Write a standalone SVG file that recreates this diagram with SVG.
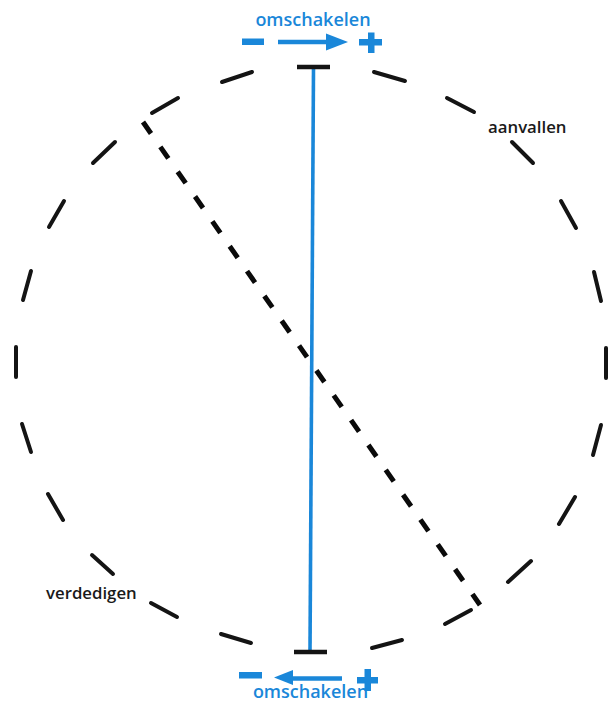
<svg xmlns="http://www.w3.org/2000/svg" width="609" height="703" viewBox="0 0 609 703">
  <defs>
    <style>
      .circ { stroke: #141414; stroke-width: 4; stroke-linecap: round; fill: none; }
      .diag { stroke: #0a0a0a; stroke-width: 5; fill: none; stroke-dasharray: 14 16.3; }
      .blue { stroke: #1a87d9; fill: none; }
      .bluefill { fill: #1a87d9; }
      .lblb { font-family: "Open Sans", "Noto Sans", "Liberation Sans", sans-serif; font-weight: 600; font-size: 18px; fill: #1a87d9; }
      .lblk { font-family: "Open Sans", "Noto Sans", "Liberation Sans", sans-serif; font-weight: 600; font-size: 16.8px; fill: #1a1a1a; }
      .tbar { stroke: #141414; stroke-width: 4.5; }
    </style>
  </defs>
  <rect width="609" height="703" fill="#ffffff"/>

  <g id="circle">
    <line class="circ" x1="222" y1="82" x2="252" y2="72"/>
    <line class="circ" x1="374" y1="72" x2="405" y2="81"/>
    <line class="circ" x1="447" y1="98" x2="474" y2="112"/>
    <line class="circ" x1="512" y1="142" x2="533" y2="163"/>
    <line class="circ" x1="561" y1="201" x2="576" y2="228"/>
    <line class="circ" x1="594" y1="272" x2="601" y2="301"/>
    <line class="circ" x1="606" y1="348" x2="606" y2="378"/>
    <line class="circ" x1="601" y1="425" x2="593" y2="455"/>
    <line class="circ" x1="575" y1="497" x2="559" y2="524"/>
    <line class="circ" x1="531" y1="561" x2="508" y2="582"/>
    <line class="circ" x1="471" y1="610" x2="445" y2="624"/>
    <line class="circ" x1="402" y1="640" x2="372" y2="648"/>
    <line class="circ" x1="251" y1="643" x2="221" y2="634"/>
    <line class="circ" x1="177" y1="617" x2="151" y2="603"/>
    <line class="circ" x1="113" y1="574" x2="92" y2="555"/>
    <line class="circ" x1="63" y1="520" x2="48" y2="494"/>
    <line class="circ" x1="31" y1="452" x2="22" y2="424"/>
    <line class="circ" x1="16" y1="377" x2="16" y2="347"/>
    <line class="circ" x1="23" y1="300" x2="31" y2="271"/>
    <line class="circ" x1="49" y1="227" x2="64" y2="201"/>
    <line class="circ" x1="93" y1="163" x2="115" y2="142"/>
    <line class="circ" x1="152" y1="113" x2="178" y2="98"/>
  </g>

  <g id="diagonal">
    <line class="diag" x1="143" y1="122" x2="480" y2="605"/>
  </g>

  <g id="axis">
    <line class="blue" x1="313.5" y1="68" x2="310" y2="651" stroke-width="3.6"/>
    <line class="tbar" x1="297" y1="67" x2="330" y2="67"/>
    <line class="tbar" x1="294" y1="652" x2="327" y2="652"/>
  </g>

  <g id="top-switch">
    <text class="lblb" x="313" y="26" text-anchor="middle">omschakelen</text>
    <rect class="bluefill" x="242" y="38.5" width="22" height="6.5"/>
    <line class="blue" x1="278" y1="42" x2="330" y2="42" stroke-width="4.5"/>
    <polygon class="bluefill" points="326,33.5 348,42 326,50.5"/>
    <rect class="bluefill" x="359" y="39" width="23" height="6.5"/>
    <rect class="bluefill" x="368" y="32.5" width="6.5" height="20.5"/>
  </g>

  <g id="bottom-switch">
    <rect class="bluefill" x="239" y="672" width="23" height="6.5"/>
    <line class="blue" x1="289" y1="678.5" x2="342" y2="678.5" stroke-width="4.5"/>
    <polygon class="bluefill" points="293,670 274,677.5 293,685"/>
    <rect class="bluefill" x="357" y="677" width="21" height="6.5"/>
    <rect class="bluefill" x="364.5" y="669" width="6.5" height="22"/>
    <text class="lblb" x="310.5" y="698" text-anchor="middle">omschakelen</text>
  </g>

  <g id="label-aanvallen">
    <text class="lblk" x="488" y="133">aanvallen</text>
  </g>
  <g id="label-verdedigen">
    <text class="lblk" x="46" y="599">verdedigen</text>
  </g>
</svg>
